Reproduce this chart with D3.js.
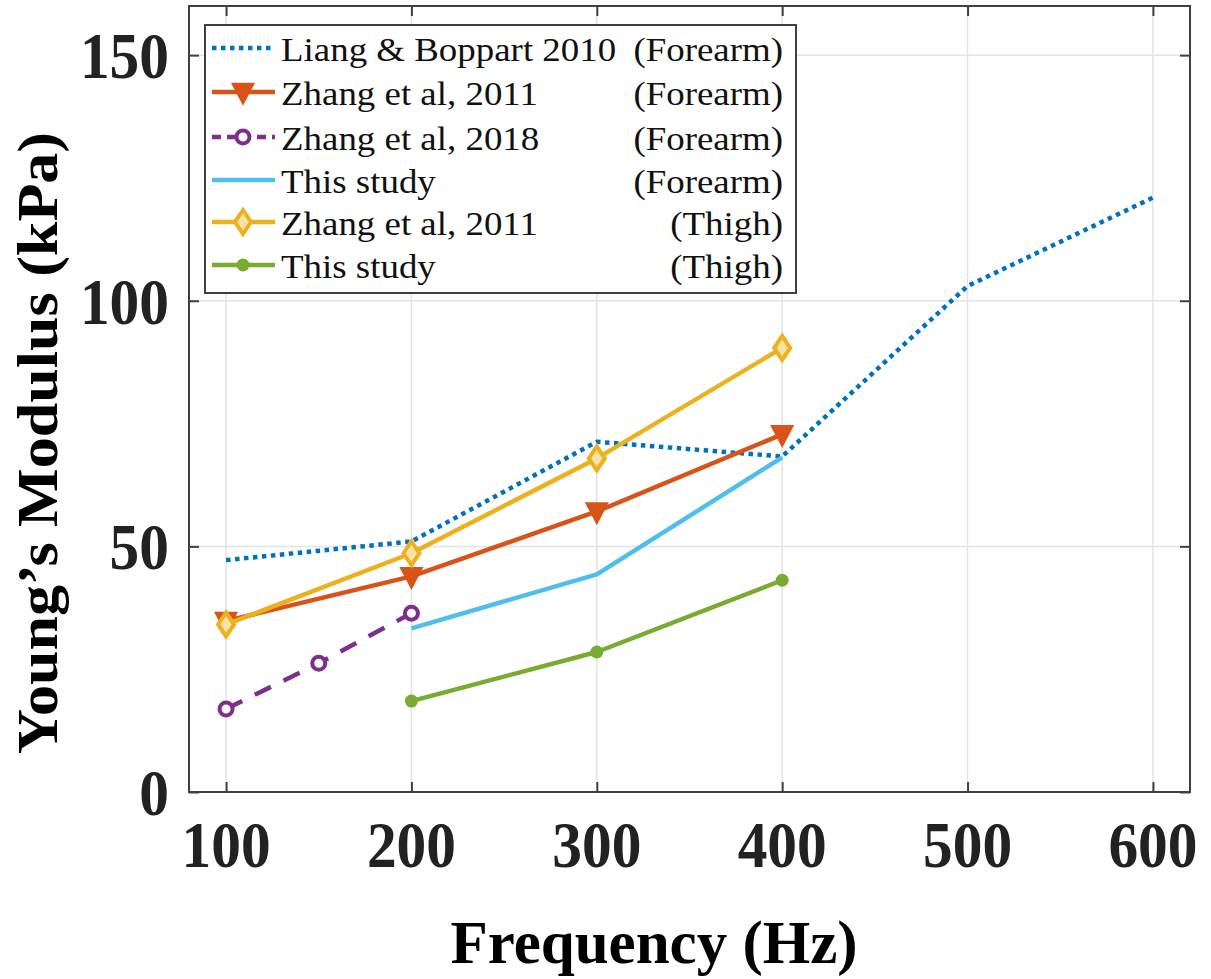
<!DOCTYPE html>
<html><head><meta charset="utf-8">
<script src="https://cdn.jsdelivr.net/npm/d3@7"></script>
<style>body{margin:0;background:#fff}svg{display:block}</style>
</head><body><svg id="c" width="1211" height="979"></svg>
<script>
// ---- data ----
const xTicks = [100, 200, 300, 400, 500, 600];
const yTicks = [0, 50, 100, 150];
const liangX = [100, 200, 300, 400, 500, 600];
const liangY = [47.2, 51.0, 71.3, 68.3, 103.0, 121.0];
const zhang11FX = [100, 200, 300, 400];
const zhang11FY = [34.8, 43.9, 57.1, 72.8];
const zhang18X = [100, 150, 200];
const zhang18Y = [16.9, 26.2, 36.4];
const studyFX = [200, 300, 400];
const studyFY = [33.3, 44.3, 68.1];
const zhang11TX = [100, 200, 300, 400];
const zhang11TY = [34.1, 48.6, 67.9, 90.4];
const studyTX = [200, 300, 400];
const studyTY = [18.5, 28.5, 43.1];
const legendLeft = ["Liang & Boppart 2010", "Zhang et al, 2011", "Zhang et al, 2018", "This study", "Zhang et al, 2011", "This study"];
const legendRight = ["(Forearm)", "(Forearm)", "(Forearm)", "(Forearm)", "(Thigh)", "(Thigh)"];

const svg = d3.select("#c");
const L = 189, R = 1190, T = 6, B = 792;
const x = d3.scaleLinear().domain([80, 620]).range([L, R]);
const y = d3.scaleLinear().domain([0, 160]).range([B, T]);
const axisCol = "#404040";

// grid
const g = svg.append("g");
g.selectAll(".gx").data(xTicks).join("line")
  .attr("x1", d => x(d)).attr("x2", d => x(d)).attr("y1", T).attr("y2", B)
  .attr("stroke", "#e3e3e3").attr("stroke-width", 1.5);
g.selectAll(".gy").data(yTicks).join("line")
  .attr("x1", L).attr("x2", R).attr("y1", d => y(d)).attr("y2", d => y(d))
  .attr("stroke", "#e3e3e3").attr("stroke-width", 1.5);

// series
const series = [
  {xs: liangX, ys: liangY, color: "#0072BD", dash: "4.5,4.5", width: 4.5, marker: null},
  {xs: zhang11FX, ys: zhang11FY, color: "#D95319", dash: null, width: 4.5, marker: "tri"},
  {xs: zhang18X, ys: zhang18Y, color: "#7E2F8E", dash: "18,14", width: 4.5, marker: "ocircle"},
  {xs: studyFX, ys: studyFY, color: "#4DBEEE", dash: null, width: 4.5, marker: null},
  {xs: zhang11TX, ys: zhang11TY, color: "#EDB120", dash: null, width: 4.5, marker: "diamond"},
  {xs: studyTX, ys: studyTY, color: "#77AC30", dash: null, width: 4.5, marker: "dot"}
];
const line = d3.line().x(d => x(d[0])).y(d => y(d[1]));
function drawMarker(sel, type, cx, cy, color) {
  if (type === "tri") {
    sel.append("path").attr("d", `M${cx-10},${cy-8}L${cx+10},${cy-8}L${cx},${cy+11}Z`)
      .attr("fill", color).attr("stroke", color).attr("stroke-width", 2.5).attr("stroke-linejoin", "miter");
  } else if (type === "diamond") {
    sel.append("path").attr("d", `M${cx},${cy-12}L${cx+8},${cy}L${cx},${cy+12}L${cx-8},${cy}Z`)
      .attr("fill", "#f7e3a6").attr("stroke", color).attr("stroke-width", 4);
  } else if (type === "ocircle") {
    sel.append("circle").attr("cx", cx).attr("cy", cy).attr("r", 6.5)
      .attr("fill", "#fff").attr("stroke", color).attr("stroke-width", 4);
  } else if (type === "dot") {
    sel.append("circle").attr("cx", cx).attr("cy", cy).attr("r", 6.5)
      .attr("fill", color).attr("stroke", "none");
  }
}
const sg = svg.append("g");
series.forEach(s => {
  const pts = s.xs.map((v, i) => [v, s.ys[i]]);
  sg.append("path").datum(pts).attr("d", line).attr("fill", "none")
    .attr("stroke", s.color).attr("stroke-width", s.width)
    .attr("stroke-dasharray", s.dash).attr("stroke-linejoin", "round");
  if (s.marker) pts.forEach(p => drawMarker(sg, s.marker, x(p[0]), y(p[1]), s.color));
});

// axes box
svg.append("rect").attr("x", L).attr("y", T).attr("width", R - L).attr("height", B - T)
  .attr("fill", "none").attr("stroke", axisCol).attr("stroke-width", 2);
const xb = d3.axisBottom(x).tickValues(xTicks).tickSize(-10).tickFormat("");
const xt = d3.axisTop(x).tickValues(xTicks).tickSize(-10).tickFormat("");
const yl = d3.axisLeft(y).tickValues(yTicks).tickSize(-10).tickFormat("");
const yr = d3.axisRight(y).tickValues(yTicks).tickSize(-10).tickFormat("");
[[xb, `translate(0,${B})`], [xt, `translate(0,${T})`], [yl, `translate(${L},0)`], [yr, `translate(${R},0)`]].forEach(([a, t]) => {
  const gg = svg.append("g").attr("transform", t).call(a);
  gg.select(".domain").remove();
  gg.selectAll("line").attr("stroke", axisCol).attr("stroke-width", 2);
});

// tick labels
const tickFont = "'Liberation Serif', 'Times New Roman', serif";
svg.append("g").selectAll("text").data(xTicks).join("text")
  .attr("transform", d => `translate(${x(d)},867) scale(0.9,1)`).attr("text-anchor", "middle")
  .attr("font-family", tickFont).attr("font-weight", "bold").attr("font-size", 66)
  .attr("fill", "#222").text(d => d);
svg.append("g").selectAll("text").data(yTicks).join("text")
  .attr("transform", d => `translate(169,${y(d) + 23}) scale(0.9,1)`).attr("text-anchor", "end")
  .attr("font-family", tickFont).attr("font-weight", "bold").attr("font-size", 66)
  .attr("fill", "#222").text(d => d);

// axis labels
svg.append("text").attr("x", 654).attr("y", 963).attr("text-anchor", "middle")
  .attr("font-family", tickFont).attr("font-weight", "bold").attr("font-size", 61)
  .attr("fill", "#000").text("Frequency (Hz)");
svg.append("text").attr("transform", "translate(57,443) rotate(-90)").attr("text-anchor", "middle")
  .attr("font-family", tickFont).attr("font-weight", "bold").attr("font-size", 58)
  .attr("textLength", 622).attr("lengthAdjust", "spacingAndGlyphs")
  .attr("fill", "#000").text("Young’s Modulus (kPa)");

// legend
const lg = svg.append("g");
lg.append("rect").attr("x", 205).attr("y", 25).attr("width", 591).attr("height", 268)
  .attr("fill", "#fff").attr("stroke", axisCol).attr("stroke-width", 2);
const rowY = [48, 92, 137, 180, 222, 265];
series.forEach((s, i) => {
  const cy = rowY[i];
  lg.append("line").attr("x1", 212).attr("x2", 275).attr("y1", cy).attr("y2", cy)
    .attr("stroke", s.color).attr("stroke-width", s.width)
    .attr("stroke-dasharray", s.marker === "ocircle" ? "9,6" : s.dash);
  if (s.marker) drawMarker(lg, s.marker, 243, cy, s.color);
  lg.append("text").attr("transform", `translate(281,${cy + 13}) scale(1.07,1)`).attr("font-family", tickFont)
    .attr("font-size", 34.5).attr("fill", "#111").text(legendLeft[i]);
  lg.append("text").attr("transform", `translate(783,${cy + 13}) scale(1.07,1)`).attr("text-anchor", "end").attr("font-family", tickFont)
    .attr("font-size", 34.5).attr("fill", "#111").text(legendRight[i]);
});
</script></body></html>
